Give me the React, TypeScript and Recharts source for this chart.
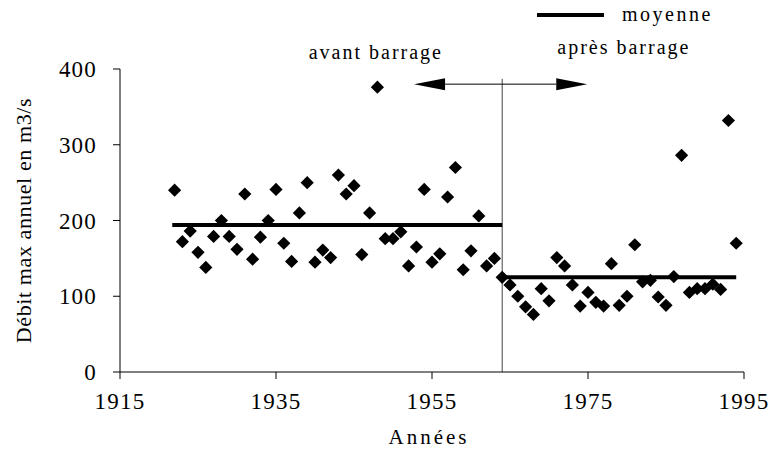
import React from "react";
import {
  ScatterChart,
  Scatter,
  XAxis,
  YAxis,
  ReferenceLine,
  ReferenceDot,
} from "recharts";

// annual max flow, one point per year
const years = [
  1922, 1923, 1924, 1925, 1926, 1927, 1928, 1929, 1930, 1931, 1932, 1933,
  1934, 1935, 1936, 1937, 1938, 1939, 1940, 1941, 1942, 1943, 1944, 1945,
  1946, 1947, 1948, 1949, 1950, 1951, 1952, 1953, 1954, 1955, 1956, 1957,
  1958, 1959, 1960, 1961, 1962, 1963, 1964, 1965, 1966, 1967, 1968, 1969,
  1970, 1971, 1972, 1973, 1974, 1975, 1976, 1977, 1978, 1979, 1980, 1981,
  1982, 1983, 1984, 1985, 1986, 1987, 1988, 1989, 1990, 1991, 1992, 1993,
  1994,
];
const flows = [
  240, 172, 186, 158, 138, 179, 200, 179, 162, 235, 149, 178,
  200, 241, 170, 146, 210, 250, 145, 161, 151, 260, 235, 246,
  155, 210, 376, 176, 176, 185, 140, 165, 241, 145, 156, 231,
  270, 135, 160, 206, 140, 150, 125, 115, 100, 86, 76, 110,
  94, 151, 140, 115, 87, 105, 92, 87, 143, 88, 100, 168,
  119, 121, 99, 88, 126, 286, 105, 110, 110, 116, 109, 332,
  170,
];

// mean before / after the dam: [start year, end year, value]
const meanBefore = [1921.7, 1964, 194];
const meanAfter = [1964, 1994, 125];
const damYear = 1964;
const arrowSpan = [1952.7, 1974.9];

const xTicks = [1915, 1935, 1955, 1975, 1995];
const yTicks = [0, 100, 200, 300, 400];

const data = years.map((y, i) => ({ year: y, flow: flows[i] }));

const FONT = "Liberation Serif, Times New Roman, serif";
const tickStyle = {
  fontSize: 23,
  fill: "#000",
  fontFamily: FONT,
  letterSpacing: 1.2,
  style: { fontFamily: FONT },
};

const Diamond = (props: any) => {
  const { cx, cy } = props;
  const r = 6.6;
  return (
    <polygon
      points={`${cx},${cy - r} ${cx + r},${cy} ${cx},${cy + r} ${cx - r},${cy}`}
      fill="#000"
    />
  );
};

const DoubleArrow = (props: any) => {
  const { x1, y1, x2, y2 } = props;
  const len = 31;
  const h = 6;
  return (
    <g>
      <line x1={x1 + len} y1={y1} x2={x2 - len} y2={y2} stroke="#000" strokeWidth={1} />
      <polygon points={`${x1},${y1} ${x1 + len},${y1 - h} ${x1 + len},${y1 + h}`} fill="#000" />
      <polygon points={`${x2},${y2} ${x2 - len},${y2 - h} ${x2 - len},${y2 + h}`} fill="#000" />
    </g>
  );
};

const noteLabel = (value: string) => ({
  value,
  position: "center" as const,
  fontSize: 20,
  fill: "#000",
  fontFamily: FONT,
  letterSpacing: 2,
  style: { fontFamily: FONT },
});

export default function App() {
  return (
    <div style={{ position: "absolute", left: 0, top: 0, width: 771, height: 461, fontFamily: FONT }}>
      <ScatterChart
        width={771}
        height={461}
        margin={{ top: 69, right: 27, left: 0, bottom: 0 }}
        style={{ fontFamily: FONT }}
      >
        <XAxis
          type="number"
          dataKey="year"
          domain={[1915, 1995]}
          ticks={xTicks}
          allowDataOverflow
          height={89}
          stroke="#000"
          tickSize={7}
          tickMargin={14}
          tick={tickStyle}
          label={{
            content: (p: any) => (
              <text
                x={p.viewBox.x + p.viewBox.width / 2 - 3}
                y={444}
                textAnchor="middle"
                fontSize={21}
                letterSpacing={3}
                fill="#000"
                style={{ fontFamily: FONT }}
              >
                Années
              </text>
            ),
          }}
        />
        <YAxis
          type="number"
          dataKey="flow"
          domain={[0, 400]}
          ticks={yTicks}
          width={120}
          stroke="#000"
          tickSize={7}
          tickMargin={16}
          tick={tickStyle}
          label={{
            content: (p: any) => {
              const cy = p.viewBox.y + p.viewBox.height / 2;
              return (
                <text
                  x={23}
                  y={cy}
                  transform={`rotate(-90, 23, ${cy})`}
                  textAnchor="middle"
                  dominantBaseline="central"
                  fontSize={22}
                  letterSpacing={0.6}
                  fill="#000"
                  style={{ fontFamily: FONT }}
                >
                  Débit max annuel en m3/s
                </text>
              );
            },
          }}
        />
        <ReferenceLine
          segment={[{ x: damYear, y: 0 }, { x: damYear, y: 387 }]}
          stroke="#444"
          strokeWidth={1}
          ifOverflow="visible"
        />
        <ReferenceLine
          segment={[{ x: arrowSpan[0], y: 380 }, { x: arrowSpan[1], y: 380 }]}
          shape={DoubleArrow}
          ifOverflow="visible"
        />
        <Scatter data={data} shape={Diamond} isAnimationActive={false} />
        <ReferenceLine
          segment={[{ x: meanBefore[0], y: meanBefore[2] }, { x: meanBefore[1], y: meanBefore[2] }]}
          stroke="#000"
          strokeWidth={4}
        />
        <ReferenceLine
          segment={[{ x: meanAfter[0], y: meanAfter[2] }, { x: meanAfter[1], y: meanAfter[2] }]}
          stroke="#000"
          strokeWidth={4}
        />
        <ReferenceDot
          x={1947.8}
          y={422}
          r={0}
          fill="none"
          stroke="none"
          ifOverflow="visible"
          label={noteLabel("avant barrage")}
        />
        <ReferenceDot
          x={1979.6}
          y={429}
          r={0}
          fill="none"
          stroke="none"
          ifOverflow="visible"
          label={noteLabel("après barrage")}
        />
      </ScatterChart>
      <div style={{ position: "absolute", left: 537, top: 3, display: "flex", alignItems: "center" }}>
        <div style={{ width: 67, height: 4, background: "#000", marginRight: 18 }} />
        <span style={{ fontSize: 20, letterSpacing: 2.5, color: "#000", fontFamily: FONT }}>moyenne</span>
      </div>
    </div>
  );
}
